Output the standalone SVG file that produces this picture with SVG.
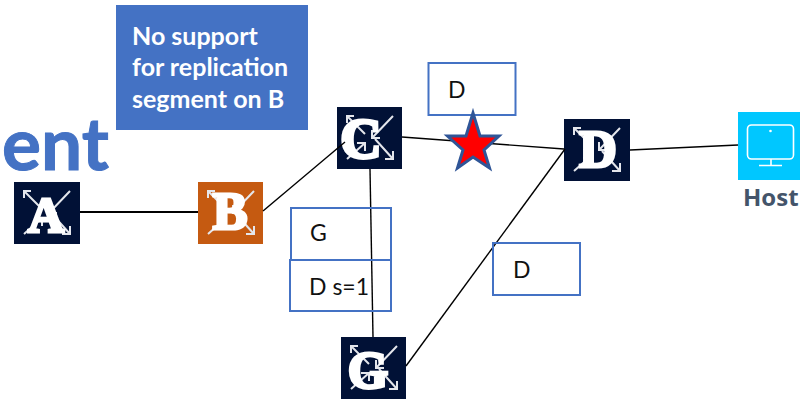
<svg xmlns="http://www.w3.org/2000/svg" xmlns:xlink="http://www.w3.org/1999/xlink" width="800" height="401" viewBox="0 0 800 401">
<style>
text{font-family:Lato,"Open Sans","Liberation Sans",sans-serif}
.bg-navy{fill:#011136}
.bg-orange{fill:#C55A11}
text.letter{font-family:"Liberation Serif",serif;font-weight:700;fill:#fff;stroke:#fff;stroke-width:3;text-anchor:middle}
.ico{fill:none;stroke:#E4E6EC;stroke-width:2}
.conn{fill:none;stroke:#000;stroke-width:1.4}
.box{fill:none;stroke:#4472C4;stroke-width:2}
.lbl{font-size:23px;fill:#111}
.note{font-size:25px;font-weight:700;fill:#fff}
text.host{font-family:"Open Sans",sans-serif;font-size:24px;font-weight:700;fill:#44546A}
</style>
<defs>
<g id="arrows" class="ico">
<path d="M10 9L28 27M10 16V9H17"/>
<path d="M56 9L35 31M35 23V31H43"/>
<path d="M10 52L28 36M20 36H28V44"/>
<path d="M38 32L56 52M56 44V52H48"/>
</g>
</defs>
<text x="2" y="170" font-size="73" font-weight="700" fill="#4472C4" stroke="#4472C4" stroke-width="1">ent</text>
<g id="note"><rect x="116" y="5" width="192" height="125" fill="#4472C4"/>
<text class="note" x="132" y="45">No support</text>
<text class="note" x="132" y="76">for replication</text>
<text class="note" x="132" y="108">segment on B</text></g>
<g id="node-a"><rect class="bg-navy" x="14" y="182" width="66" height="62"/><use xlink:href="#arrows" href="#arrows" x="14" y="182"/><text class="letter" font-size="50" x="46" y="232">A</text></g>
<g id="node-b"><rect class="bg-orange" x="198" y="182" width="65" height="62"/><use xlink:href="#arrows" href="#arrows" x="198" y="182"/><text class="letter" font-size="52" x="230" y="229">B</text></g>
<g id="node-c"><rect class="bg-navy" x="337" y="107" width="65" height="62"/><use xlink:href="#arrows" href="#arrows" x="337" y="107"/><text class="letter" font-size="58" x="361" y="158">C</text></g>
<g id="node-d"><rect class="bg-navy" x="564" y="119" width="66" height="62"/><use xlink:href="#arrows" href="#arrows" x="564" y="119"/><text class="letter" font-size="52" x="598" y="167">D</text></g>
<g id="node-g"><rect class="bg-navy" x="341" y="337" width="65" height="62"/><use xlink:href="#arrows" href="#arrows" x="341" y="337"/><text class="letter" font-size="52" x="368" y="388">G</text></g>
<g id="node-host"><rect x="738" y="112" width="62" height="68" fill="#00C7FF"/>
<rect x="747.500" y="125" width="46" height="34" rx="4" fill="none" stroke="#fff" stroke-width="1.600"/>
<circle cx="770.500" cy="131" r="1.300" fill="#fff"/>
<path d="M771 159V165M759 165.500H782" fill="none" stroke="#fff" stroke-width="1.600"/>
<text class="host" x="743" y="206">Host</text></g>
<g id="connectors">
<path class="conn" style="stroke-width:2" d="M80 212H198"/>
<path class="conn" d="M263 211L345 142"/>
<path class="conn" d="M402 137L564 149"/>
<path class="conn" d="M406 366L565 149"/>
<path class="conn" d="M370 169L373 337"/>
<path class="conn" d="M630 150L738 145"/>
</g>
<g id="box-d1"><rect class="box" x="428.500" y="63" width="87" height="52"/><text class="lbl" x="448" y="98">D</text></g>
<g id="box-g"><rect class="box" x="291" y="208" width="100" height="52"/><text class="lbl" x="310" y="241">G</text></g>
<g id="box-ds"><rect class="box" x="290" y="260" width="101" height="51"/><text class="lbl" x="309" y="295">D s=1</text></g>
<g id="box-d2"><rect class="box" x="493" y="243" width="87" height="52"/><text class="lbl" x="513" y="278">D</text></g>
<g id="star"><polygon points="473,113 480,136 499,136 484,150 489.500,168 473,157 457.500,168 463,150 447.500,136 466,136" fill="#FF0000" stroke="#2F5597" stroke-width="3"/></g>
</svg>
